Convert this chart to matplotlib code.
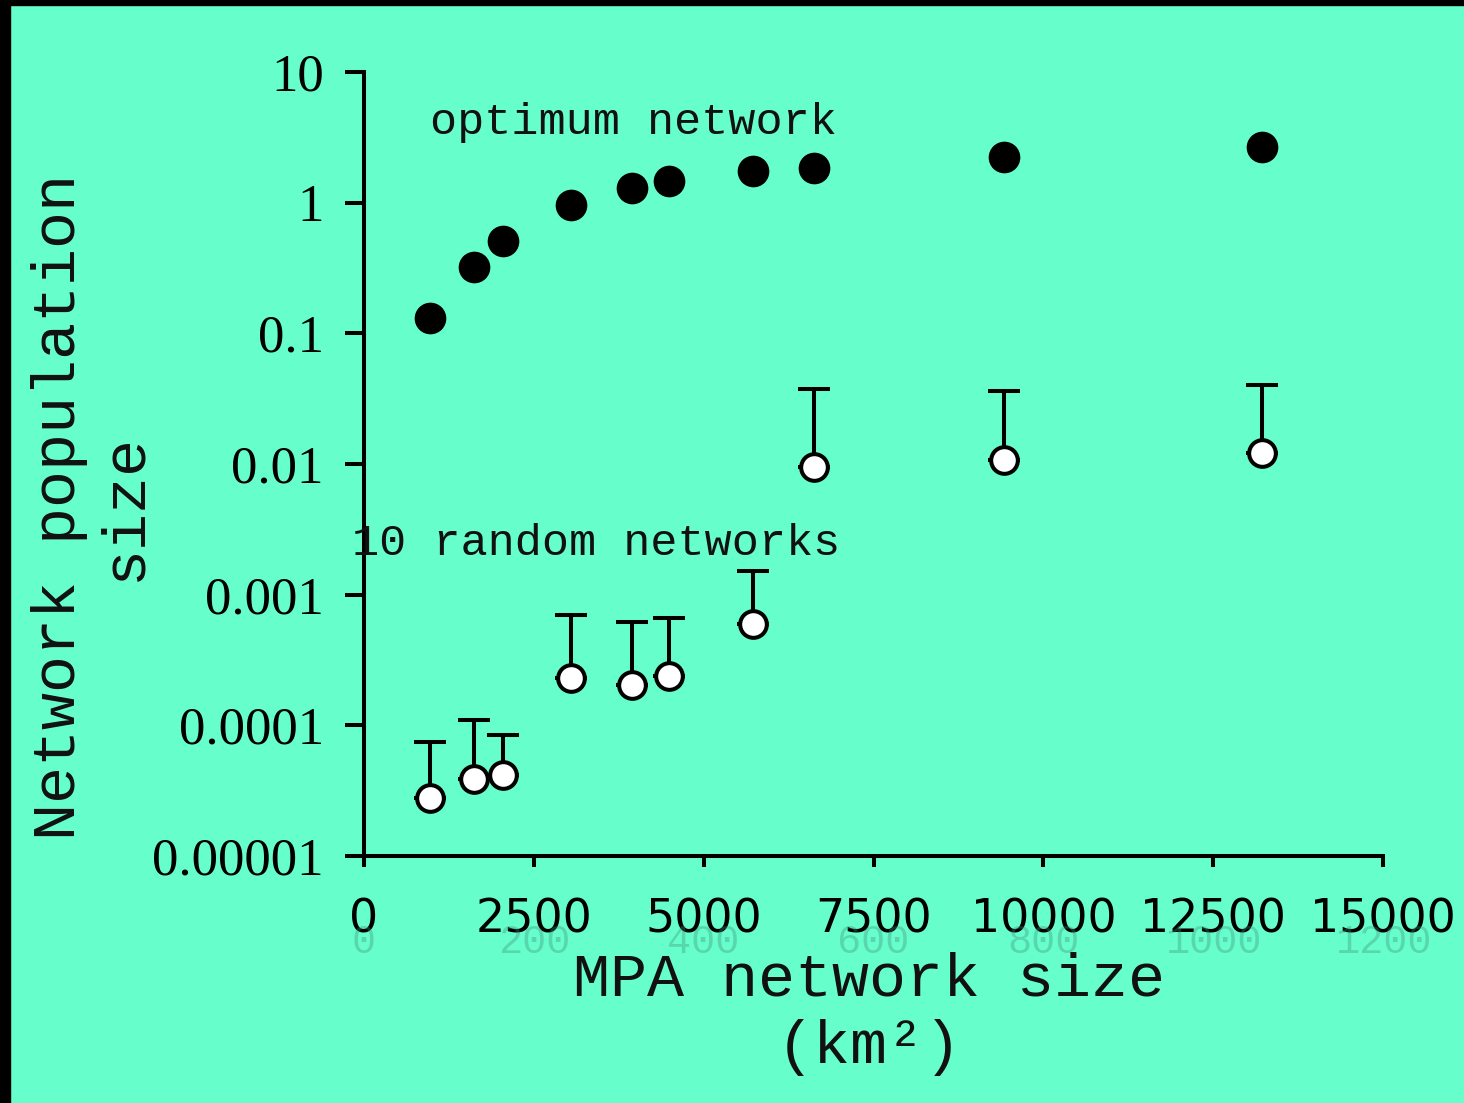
import matplotlib
matplotlib.use("Agg")
import matplotlib.pyplot as plt
import numpy as np
from matplotlib import font_manager
from matplotlib.patches import Rectangle
import matplotlib.transforms as mtransforms

# ---------------- data ----------------
mpa_size = [976, 1619, 2039, 3052, 3950, 4497, 5727, 6627, 9426, 13215]
optimum = [0.130, 0.322, 0.506, 0.962, 1.298, 1.476, 1.752, 1.847, 2.254, 2.656]
random_mean = [2.80e-5, 3.87e-5, 4.18e-5, 2.30e-4, 2.04e-4, 2.39e-4, 5.96e-4, 9.42e-3, 1.073e-2, 1.205e-2]
random_upper = [7.48e-5, 1.10e-4, 8.41e-5, 6.98e-4, 6.17e-4, 6.58e-4, 1.52e-3, 3.75e-2, 3.60e-2, 4.03e-2]

x_ticks = [0, 2500, 5000, 7500, 10000, 12500, 15000]
x_ticklabels = ["0", "2500", "5000", "7500", "10000", "12500", "15000"]
ghost_ticklabels = ["0", "200", "400", "600", "800", "1000", "1200"]
y_ticks = [10, 1, 0.1, 0.01, 0.001, 0.0001, 0.00001]
y_ticklabels = ["10", "1", "0.1", "0.01", "0.001", "0.0001", "0.00001"]

label_opt = "optimum network"
label_rand = "10 random networks"
ylabel = "Network population\nsize"
xlabel = "MPA network size\n(km\u00b2)"

# ---------------- fonts ----------------
available = {f.name for f in font_manager.fontManager.ttflist}
def pick(*names):
    for n in names:
        if n in available:
            return n
    return "DejaVu Sans"

serif = pick("Liberation Serif", "DejaVu Serif")
mono = pick("Liberation Mono", "DejaVu Sans Mono")
narrow = pick("Liberation Sans Narrow", "DejaVu Sans")

BG = "#66FFCC"

fig = plt.figure(figsize=(14.64, 11.03), dpi=100, facecolor=BG)
ax = fig.add_axes([364/1464, 1 - 856/1103, (1383 - 364)/1464, (856 - 72)/1103])
ax.set_facecolor(BG)

ax.set_yscale("log")
ax.set_xlim(0, 15000)
ax.set_ylim(1e-5, 10)

for s in ["top", "right"]:
    ax.spines[s].set_visible(False)
for s in ["left", "bottom"]:
    ax.spines[s].set_linewidth(2.9)
    ax.spines[s].set_color("black")

ax.set_yticks(y_ticks)
ax.set_yticklabels(y_ticklabels, fontfamily=serif, fontsize=38)
ax.yaxis.set_minor_locator(matplotlib.ticker.NullLocator())
ax.tick_params(axis="y", which="major", length=14, width=2.9, pad=15, direction="out")

ax.set_xticks(x_ticks)
ax.set_xticklabels(x_ticklabels, fontfamily=narrow, fontsize=33)
ax.tick_params(axis="x", which="major", length=8, width=2.9, pad=22, direction="out")

# ghost labels (faint) under the x tick labels
blend = mtransforms.blended_transform_factory(ax.transData, ax.transAxes)
for xt, gl in zip(x_ticks, ghost_ticklabels):
    ax.text(xt, -0.11, gl, transform=blend, ha="center", va="center",
            fontfamily=mono, fontsize=29, color="#3f8f78", alpha=0.35, clip_on=False)

# error bars (upper only)
mean = np.array(random_mean)
upper = np.array(random_upper)
ax.errorbar(mpa_size, mean, yerr=[np.zeros_like(mean), upper - mean], fmt="none",
            ecolor="black", elinewidth=2.9, capsize=11.5, capthick=2.9, zorder=3)
ax.plot(mpa_size, random_mean, linestyle="none", marker="o", markersize=19.2,
        markerfacecolor="white", markeredgecolor="black", markeredgewidth=2.9, zorder=4, clip_on=False)
ax.plot(mpa_size, optimum, linestyle="none", marker="o", markersize=22.8,
        markerfacecolor="black", markeredgewidth=0, zorder=4, clip_on=False)

ax.text(972, 4.1, label_opt, ha="left", va="center", fontfamily=mono, fontsize=32.5, color="#111111")
ax.text(-176, 2.45e-3, label_rand, ha="left", va="center", fontfamily=mono, fontsize=32.5,
        color="#111111", clip_on=False)

fig.text(92/1464, 1 - 507/1103, ylabel, rotation=90, ha="center", va="center",
         multialignment="center", fontfamily=mono, fontsize=44.5, color="#111111", linespacing=1.18)
fig.text(869/1464, 1 - 1014/1103, xlabel, ha="center", va="center",
         multialignment="center", fontfamily=mono, fontsize=44.5, color="#111111", linespacing=1.25)

# black frame strips (left and top)
fig.add_artist(Rectangle((0, 0), 10/1464, 1, transform=fig.transFigure, color="black", zorder=10))
fig.add_artist(Rectangle((0, 1 - 5/1103), 1, 5/1103, transform=fig.transFigure, color="black", zorder=10))

fig.savefig("out.png", dpi=100, facecolor=BG)
